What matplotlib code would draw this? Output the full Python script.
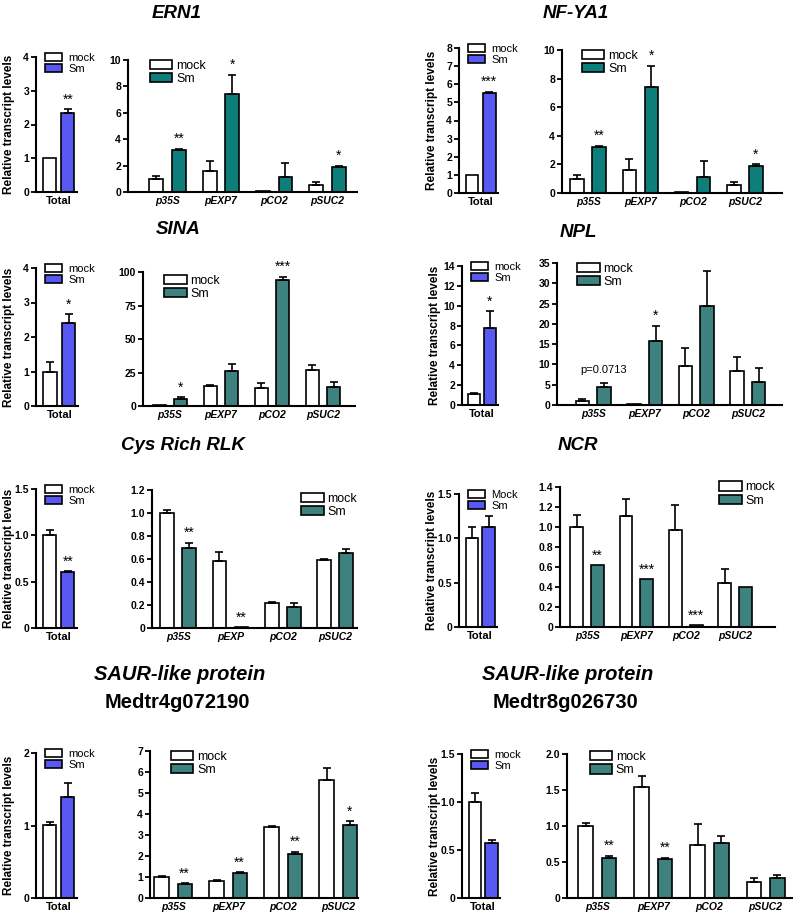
import numpy as np
import matplotlib
matplotlib.use('Agg')
import matplotlib.pyplot as plt

plt.rcParams['font.family'] = ['Liberation Sans', 'DejaVu Sans']

W, H = 793, 918

# colours
BLUE = '#5858f2'
TEAL = '#0e7e7a'
TEAL2 = '#3e827f'

groups = ['p35S', 'pEXP7', 'pCO2', 'pSUC2']
cys_groups = ['p35S', 'pEXP', 'pCO2', 'pSUC2']

# ERN1
ern1_total = [1.0, 2.33]
ern1_total_err = [0.0, 0.12]
ern1_total_sig = ['', '**']
ern1_mock = [1.0, 1.6, 0.05, 0.55]
ern1_mock_err = [0.2, 0.75, 0.0, 0.2]
ern1_sm = [3.16, 7.39, 1.14, 1.9]
ern1_sm_err = [0.13, 1.47, 1.06, 0.08]
ern1_sig = ['**', '*', '', '*']

# NF-YA1
nfya1_total = [1.0, 5.5]
nfya1_total_err = [0.0, 0.07]
nfya1_total_sig = ['', '***']
nfya1_mock = [1.0, 1.6, 0.05, 0.58]
nfya1_mock_err = [0.25, 0.8, 0.0, 0.18]
nfya1_sm = [3.2, 7.4, 1.12, 1.92]
nfya1_sm_err = [0.1, 1.5, 1.1, 0.08]
nfya1_sig = ['**', '*', '', '*']

# SINA
sina_total = [1.0, 2.42]
sina_total_err = [0.28, 0.24]
sina_total_sig = ['', '*']
sina_mock = [0.5, 15.0, 13.2, 27.0]
sina_mock_err = [0.0, 1.0, 3.8, 3.4]
sina_sm = [5.0, 26.4, 94.3, 14.0]
sina_sm_err = [1.5, 4.6, 2.0, 4.2]
sina_sig = ['*', '', '***', '']

# NPL
npl_total = [1.1, 7.8]
npl_total_err = [0.14, 1.66]
npl_total_sig = ['', '*']
npl_mock = [1.0, 0.2, 9.6, 8.4]
npl_mock_err = [0.4, 0.0, 4.4, 3.5]
npl_sm = [4.5, 15.8, 24.5, 5.6]
npl_sm_err = [0.85, 3.7, 8.6, 3.6]
npl_sig = ['p=0.0713', '*', '', '']

# Cys Rich RLK
cys_total = [1.0, 0.6]
cys_total_err = [0.055, 0.01]
cys_total_sig = ['', '**']
cys_mock = [1.0, 0.58, 0.215, 0.59]
cys_mock_err = [0.03, 0.08, 0.01, 0.01]
cys_sm = [0.70, 0.005, 0.18, 0.65]
cys_sm_err = [0.04, 0.0, 0.04, 0.04]
cys_sig = ['**', '**', '', '']

# NCR
ncr_total = [1.0, 1.125]
ncr_total_err = [0.13, 0.125]
ncr_total_sig = ['', '']
ncr_mock = [1.0, 1.11, 0.967, 0.44]
ncr_mock_err = [0.12, 0.17, 0.253, 0.143]
ncr_sm = [0.617, 0.477, 0.017, 0.40]
ncr_sm_err = [0.0, 0.0, 0.0, 0.0]
ncr_sig = ['**', '***', '***', '']

# SAUR-like protein Medtr4g072190
saur4_total = [1.01, 1.4]
saur4_total_err = [0.04, 0.19]
saur4_total_sig = ['', '']
saur4_mock = [1.0, 0.81, 3.38, 5.6]
saur4_mock_err = [0.03, 0.03, 0.05, 0.6]
saur4_sm = [0.68, 1.2, 2.11, 3.5]
saur4_sm_err = [0.03, 0.02, 0.08, 0.15]
saur4_sig = ['**', '**', '**', '*']

# SAUR-like protein Medtr8g026730
saur8_total = [1.0, 0.57]
saur8_total_err = [0.09, 0.035]
saur8_total_sig = ['', '']
saur8_mock = [1.0, 1.54, 0.73, 0.22]
saur8_mock_err = [0.035, 0.16, 0.3, 0.06]
saur8_sm = [0.56, 0.54, 0.77, 0.28]
saur8_sm_err = [0.025, 0.02, 0.09, 0.04]
saur8_sig = ['**', '**', '', '']

fig = plt.figure(figsize=(W / 100, H / 100), dpi=100)


def px(l, t, r, b):
    return [l / W, 1 - b / H, (r - l) / W, (b - t) / H]


def style(ax, yticks, yticklabels):
    for s in ['top', 'right']:
        ax.spines[s].set_visible(False)
    for s in ['left', 'bottom']:
        ax.spines[s].set_linewidth(1.5)
    ax.set_ylim(0, yticks[-1])
    ax.set_yticks(yticks)
    ax.set_yticklabels(yticklabels, fontweight='bold')
    ax.tick_params(axis='y', length=3.5, width=1.3, labelsize=7.5, pad=1.5)
    ax.tick_params(axis='x', length=0, pad=3)


def add_err(ax, x, vals, errs):
    x = np.asarray(x)
    vals = np.asarray(vals)
    errs = np.asarray(errs)
    m = errs > 0
    if m.any():
        ax.errorbar(x[m], vals[m], yerr=[np.zeros(m.sum()), errs[m]], fmt='none',
                    ecolor='black', elinewidth=1.2, capsize=2.8, capthick=1.2, zorder=3)


def add_sig(ax, x, vals, errs, sig, size):
    for xi, v, e, s in zip(x, vals, errs, sig):
        if not s:
            continue
        if s.startswith('p'):
            ax.annotate(s, (xi, v + e), xytext=(0, 6), textcoords='offset points',
                        ha='center', va='bottom', fontsize=8, annotation_clip=False)
        else:
            ax.annotate(s, (xi, v + e), xytext=(0, 2), textcoords='offset points',
                        ha='center', va='bottom', fontsize=size, annotation_clip=False)


def draw_total(box, vals, errs, sig, yticks, yticklabels, labels=('mock', 'Sm')):
    ax = fig.add_axes(px(*box))
    w = box[2] - box[0]
    h = box[3] - box[1]
    x = np.arange(2)
    ax.bar(x[0], vals[0], 0.72, color='white', edgecolor='black', lw=1.2, label=labels[0])
    ax.bar(x[1], vals[1], 0.72, color=BLUE, edgecolor='black', lw=1.2, label=labels[1])
    add_err(ax, x, vals, errs)
    add_sig(ax, x, vals, errs, sig, 10)
    style(ax, yticks, yticklabels)
    ax.set_xlim(-0.75, 1.5)
    ax.set_xticks([0.5])
    ax.set_xticklabels(['Total'], fontsize=8, fontweight='bold')
    ax.set_ylabel('Relative transcript levels', fontsize=8.5, fontweight='bold')
    ax.yaxis.set_label_coords(-21 / w, 0.5)
    ax.legend(loc='upper left', bbox_to_anchor=(9 / w, 1 + 4 / h), frameon=False,
              fontsize=8, handlelength=1.5, handleheight=0.7, handletextpad=0.6,
              labelspacing=0.1, borderpad=0, borderaxespad=0)
    return ax


def draw_big(box, xl, labels, mock, mock_err, sm, sm_err, sig, color,
             yticks, yticklabels, loc='upper left', anchor=(0.1, 1.0)):
    ax = fig.add_axes(px(*box))
    x = np.arange(4)
    ax.bar(x - 0.21, mock, 0.26, color='white', edgecolor='black', lw=1.2, label='mock')
    ax.bar(x + 0.21, sm, 0.26, color=color, edgecolor='black', lw=1.2, label='Sm')
    add_err(ax, x - 0.21, mock, mock_err)
    add_err(ax, x + 0.21, sm, sm_err)
    add_sig(ax, x + 0.21, sm, sm_err, sig, 10)
    style(ax, yticks, yticklabels)
    ax.set_xlim(*xl)
    ax.set_xticks(x)
    ax.set_xticklabels(labels, fontsize=7.5, fontweight='bold', fontstyle='italic')
    ax.legend(loc=loc, bbox_to_anchor=anchor, frameon=False,
              fontsize=9, handlelength=1.8, handleheight=0.75, handletextpad=0.3,
              labelspacing=0.1, borderpad=0, borderaxespad=0)
    return ax


def title(x, y, text, italic=True, size=13.5):
    fig.text(x / W, 1 - y / H, text, ha='center', va='center', fontsize=size,
             fontweight='bold', fontstyle='italic' if italic else 'normal')


# row 1
title(177, 14, 'ERN1')
draw_total((36, 57, 77, 192), ern1_total, ern1_total_err, ern1_total_sig,
           [0, 1, 2, 3, 4], ['0', '1', '2', '3', '4'])
draw_big((128, 60, 357, 192), (-0.74, 3.55), groups, ern1_mock, ern1_mock_err,
         ern1_sm, ern1_sm_err, ern1_sig, TEAL,
         [0, 2, 4, 6, 8, 10], ['0', '2', '4', '6', '8', '10'], anchor=(0.095, 1.0))

title(576, 14, 'NF-YA1')
draw_total((459, 48, 498, 193), nfya1_total, nfya1_total_err, nfya1_total_sig,
           list(range(9)), [str(v) for v in range(9)])
draw_big((562, 50, 782, 193), (-0.5, 3.71), groups, nfya1_mock, nfya1_mock_err,
         nfya1_sm, nfya1_sm_err, nfya1_sig, TEAL,
         [0, 2, 4, 6, 8, 10], ['0', '2', '4', '6', '8', '10'], anchor=(0.09, 1.0))

# row 2
title(178, 230, 'SINA')
draw_total((36, 268, 78, 406), sina_total, sina_total_err, sina_total_sig,
           [0, 1, 2, 3, 4], ['0', '1', '2', '3', '4'])
draw_big((143, 272, 355, 406), (-0.53, 3.63), groups, sina_mock, sina_mock_err,
         sina_sm, sina_sm_err, sina_sig, TEAL2,
         [0, 25, 50, 75, 100], ['0', '25', '50', '75', '100'], anchor=(0.1, 0.98))

title(578, 232, 'NPL')
draw_total((462, 266, 498, 405), npl_total, npl_total_err, npl_total_sig,
           [0, 2, 4, 6, 8, 10, 12, 14], ['0', '2', '4', '6', '8', '10', '12', '14'])
draw_big((557, 263, 782, 405), (-0.7, 3.66), groups, npl_mock, npl_mock_err,
         npl_sm, npl_sm_err, npl_sig, TEAL2,
         [0, 5, 10, 15, 20, 25, 30, 35], ['0', '5', '10', '15', '20', '25', '30', '35'],
         anchor=(0.09, 1.0))

# row 3
title(183, 446, 'Cys Rich RLK')
draw_total((36, 489, 77, 628), cys_total, cys_total_err, cys_total_sig,
           [0, 0.5, 1.0, 1.5], ['0', '0.5', '1.0', '1.5'])
draw_big((152, 490, 357, 628), (-0.5, 3.42), cys_groups, cys_mock, cys_mock_err,
         cys_sm, cys_sm_err, cys_sig, TEAL2,
         [0, 0.2, 0.4, 0.6, 0.8, 1.0, 1.2], ['0', '0.2', '0.4', '0.6', '0.8', '1.0', '1.2'],
         loc='upper right', anchor=(1.0, 0.98))

title(578, 446, 'NCR')
draw_total((459, 494, 497, 627), ncr_total, ncr_total_err, ncr_total_sig,
           [0, 0.5, 1.0, 1.5], ['0', '0.5', '1.0', '1.5'], labels=('Mock', 'Sm'))
draw_big((560, 487, 775, 627), (-0.55, 3.81), groups, ncr_mock, ncr_mock_err,
         ncr_sm, ncr_sm_err, ncr_sig, TEAL2,
         [0, 0.2, 0.4, 0.6, 0.8, 1.0, 1.2, 1.4],
         ['0', '0.2', '0.4', '0.6', '0.8', '1.0', '1.2', '1.4'],
         loc='upper right', anchor=(1.0, 1.04))

# row 4
title(180, 675, 'SAUR-like protein', size=14.5)
title(177, 702, 'Medtr4g072190', italic=False, size=14.5)
draw_total((36, 753, 77, 898), saur4_total, saur4_total_err, saur4_total_sig,
           [0, 1, 2], ['0', '1', '2'])
draw_big((150, 751, 358, 898), (-0.42, 3.36), groups, saur4_mock, saur4_mock_err,
         saur4_sm, saur4_sm_err, saur4_sig, TEAL2,
         [0, 1, 2, 3, 4, 5, 6, 7], ['0', '1', '2', '3', '4', '5', '6', '7'],
         anchor=(0.1, 1.0))

title(568, 675, 'SAUR-like protein', size=14.5)
title(565, 702, 'Medtr8g026730', italic=False, size=14.5)
draw_total((462, 754, 500, 898), saur8_total, saur8_total_err, saur8_total_sig,
           [0, 0.5, 1.0, 1.5], ['0', '0.5', '1.0', '1.5'])
draw_big((567, 754, 792, 898), (-0.54, 3.47), groups, saur8_mock, saur8_mock_err,
         saur8_sm, saur8_sm_err, saur8_sig, TEAL2,
         [0, 0.5, 1.0, 1.5, 2.0], ['0', '0.5', '1.0', '1.5', '2.0'],
         anchor=(0.1, 1.02))

fig.savefig('out.png', dpi=100)
